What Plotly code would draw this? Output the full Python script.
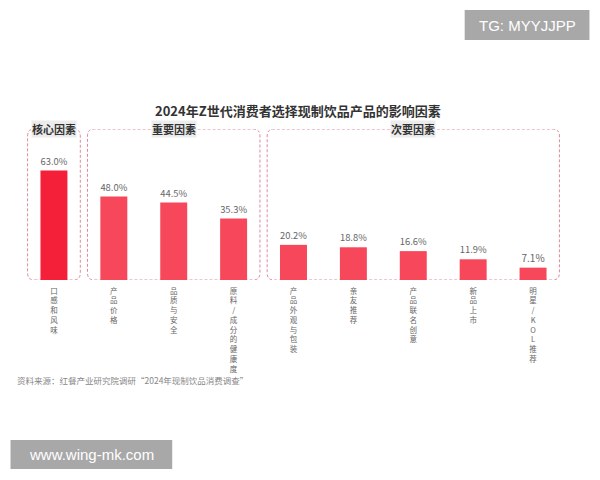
import plotly.graph_objects as go

title = "2024年Z世代消费者选择现制饮品产品的影响因素"
categories = ["口感和风味", "产品价格", "品质与安全", "原料/成分的健康度",
              "产品外观与包装", "亲友推荐", "产品联名创意", "新品上市", "明星/KOL推荐"]
values = [63.0, 48.0, 44.5, 35.3, 20.2, 18.8, 16.6, 11.9, 7.1]
groups = ["核心因素", "重要因素", "次要因素"]
group_sizes = [1, 3, 5]
source = "资料来源：红餐产业研究院调研“2024年现制饮品消费调查”"

FONT = "Noto Sans CJK SC"
x = list(range(len(categories)))
colors = ["#f41f38"] + ["#f7475b"] * (len(values) - 1)
ticktext = ["<br>".join(list(c)) for c in categories]

# page offset (body margin) compensation: page px = figure px + 8
OFF = 8
PL, PR, PT, PB = 23.5, 563.5, 129.0, 280.0  # plot area in page pixels
YMAX = 86.8


def px2paper(px, py):
    return (px - PL) / (PR - PL), (PB - py) / (PB - PT)


fig = go.Figure(go.Bar(
    x=x, y=values, width=0.45,
    marker=dict(color=colors, line=dict(width=0)),
    text=[f"{v:.1f}%" for v in values], textposition="outside",
    textfont=dict(size=10, color="#666666", family=FONT),
    cliponaxis=False,
))

px_per_x = (PR - PL) / len(categories)
px_per_y = (PB - PT) / YMAX
rx = 7 / px_per_x
ry = 7 / px_per_y
start = 0
shapes = []
annotations = []
for g, n in zip(groups, group_sizes):
    x0 = start - 0.5 + 0.06
    x1 = start + n - 0.5 - 0.06
    if start == 0:
        x0 = -0.44
    y0, y1 = 0.0, YMAX
    path = (f"M{x0+rx},{y0} L{x1-rx},{y0} Q{x1},{y0} {x1},{y0+ry} "
            f"L{x1},{y1-ry} Q{x1},{y1} {x1-rx},{y1} L{x0+rx},{y1} "
            f"Q{x0},{y1} {x0},{y1-ry} L{x0},{y0+ry} Q{x0},{y0} {x0+rx},{y0} Z")
    shapes.append(dict(type="path", path=path, xref="x", yref="y",
                       line=dict(color="#e08a98", width=1, dash="3px,2px"), layer="below"))
    annotations.append(dict(x=(x0 + x1) / 2 if n > 1 else start, y=YMAX, xref="x", yref="y",
                            text=f"<b>{g}</b>", showarrow=False, xanchor="center", yanchor="middle",
                            font=dict(size=11, color="#333333", family=FONT),
                            bgcolor="#ececec", borderpad=0))
    start += n


def add_text(px, py, text, size, color, family, xanchor="center", bold=False):
    ax, ay = px2paper(px, py)
    annotations.append(dict(x=ax, y=ay, xref="paper", yref="paper",
                            text=f"<b>{text}</b>" if bold else text, showarrow=False,
                            xanchor=xanchor, yanchor="middle",
                            font=dict(size=size, color=color, family=family)))


add_text(298, 110, title, 13, "#333333", FONT, bold=True)
add_text(14, 380, source, 8.5, "#888888", FONT, xanchor="left")
add_text(527.5, 25, "TG: MYYJJPP", 15, "white", "Liberation Sans")
add_text(91, 454.5, "www.wing-mk.com", 15, "white", "Liberation Sans")


def add_box(x0, y0, x1, y1):
    a0, b0 = px2paper(x0, y1)
    a1, b1 = px2paper(x1, y0)
    shapes.append(dict(type="rect", xref="paper", yref="paper", x0=a0, x1=a1, y0=b0, y1=b1,
                       fillcolor="#a8a8a8", line=dict(width=0), layer="below"))


add_box(465, 10, 590, 40)
add_box(10, 440, 172, 469)

fig.update_layout(
    width=600, height=480,
    margin=dict(l=PL - OFF, r=600 - (PR - OFF), t=PT - OFF, b=480 - (PB - OFF)),
    paper_bgcolor="white", plot_bgcolor="white",
    showlegend=False,
    shapes=shapes, annotations=annotations,
    xaxis=dict(range=[-0.5, len(categories) - 0.5], tickmode="array", tickvals=x,
               ticktext=ticktext, tickangle=0, showgrid=False, zeroline=False,
               showline=False, ticks="", ticklabelstandoff=5, automargin=False,
               tickfont=dict(size=7.5, color="#666666", family=FONT)),
    yaxis=dict(range=[0, YMAX], visible=False),
    font=dict(family=FONT),
)
fig.write_html("out.html")
